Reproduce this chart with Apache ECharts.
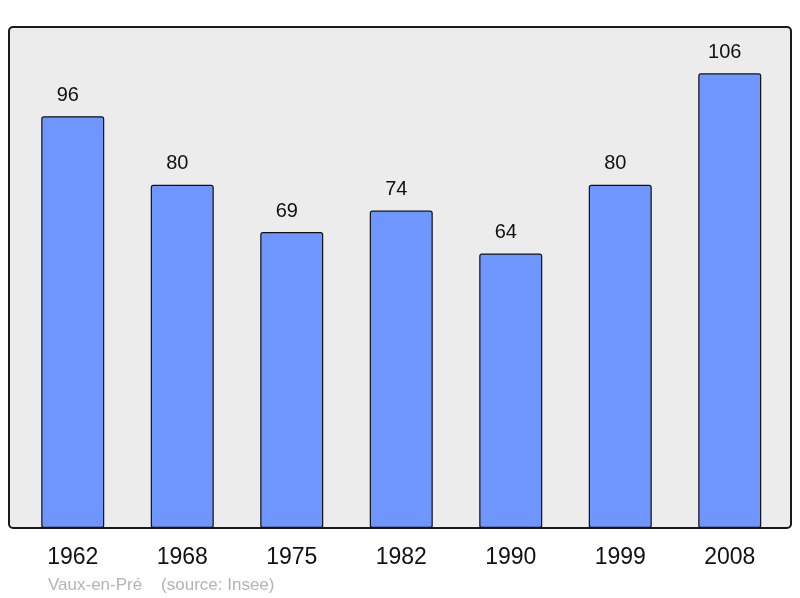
<!DOCTYPE html>
<html><head><meta charset="utf-8">
<script src="https://cdn.jsdelivr.net/npm/echarts@6/dist/echarts.min.js"></script>
<style>html,body{margin:0;padding:0;background:#fff}#c{width:800px;height:598px}</style>
</head><body><div id="c"></div>
<script>
var years = ['1962','1968','1975','1982','1990','1999','2008'];
var population = [96, 80, 69, 74, 64, 80, 106];
var footer = 'Vaux-en-Pré    (source: Insee)';

var chart = echarts.init(document.getElementById('c'), null, {renderer:'canvas'});
chart.setOption({
  animation: false,
  backgroundColor: '#fff',
  textStyle: {fontFamily: 'Liberation Sans, Arial, sans-serif'},
  graphic: [
    {type:'rect', z:0, shape:{x:9,y:27,width:782,height:501,r:4},
     style:{fill:'#ececec', stroke:'#1a1a1a', lineWidth:2}},
    {type:'text', left:48, top:577,
     style:{text:footer, fill:'#b4b4b4', font:'17px "Liberation Sans", Arial, sans-serif'}}
  ],
  grid: {left:18, right:15.5, top:27, bottom:70, containLabel:false},
  xAxis: {
    type:'category', data: years,
    axisLine:{show:false}, axisTick:{show:false},
    axisLabel:{color:'#111', fontSize:23, margin:18, fontFamily:'Liberation Sans, Arial, sans-serif'}
  },
  yAxis: {
    type:'value', min:0, max:116.8,
    show:false, splitLine:{show:false}
  },
  series: [{
    type:'bar', data: population, barWidth:63, z:5,
    itemStyle:{color:'#6f96ff', borderColor:'#111', borderWidth:1.2, borderRadius:2},
    label:{show:true, position:'top', distance:11, offset:[-5,0], color:'#111', fontSize:20,
      fontFamily:'Liberation Sans, Arial, sans-serif'}
  }]
});
</script></body></html>
